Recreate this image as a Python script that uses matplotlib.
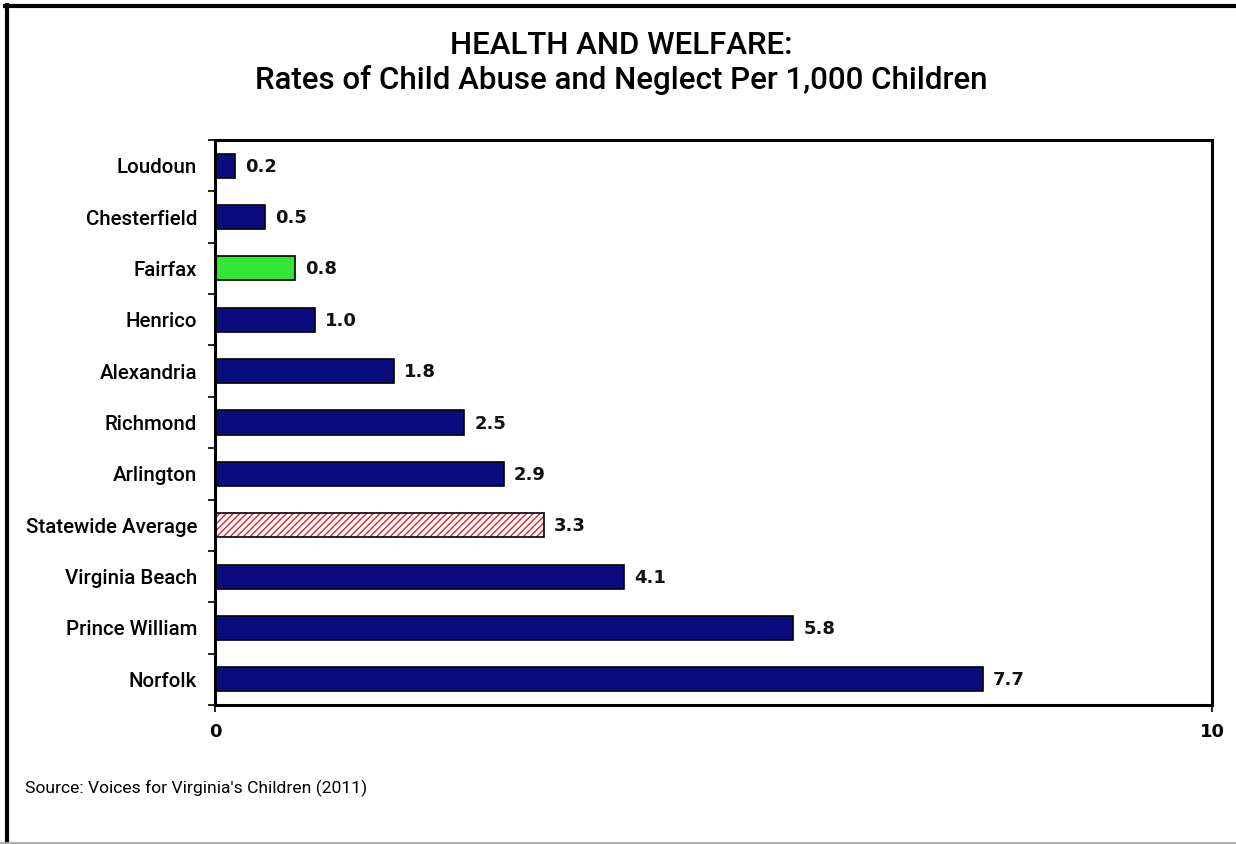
import matplotlib
matplotlib.use("Agg")
import matplotlib.pyplot as plt
from matplotlib.lines import Line2D
import numpy as np

categories = ["Loudoun", "Chesterfield", "Fairfax", "Henrico", "Alexandria", "Richmond",
              "Arlington", "Statewide Average", "Virginia Beach", "Prince William", "Norfolk"]
values = [0.2, 0.5, 0.8, 1.0, 1.8, 2.5, 2.9, 3.3, 4.1, 5.8, 7.7]
value_labels = ["0.2", "0.5", "0.8", "1.0", "1.8", "2.5", "2.9", "3.3", "4.1", "5.8", "7.7"]
x_ticks = [0, 10]
title_line1 = "HEALTH AND WELFARE:"
title_line2 = "Rates of Child Abuse and Neglect Per 1,000 Children"
source = "Source: Voices for Virginia's Children (2011)"

NAVY = "#0b0b80"
GREEN = "#33e633"
RED = "#e8202a"

narrow = ["Roboto", "DejaVu Sans"]

fig = plt.figure(figsize=(12.36, 8.44), dpi=100)
ax = fig.add_axes([215/1236, 1-705/844, (1212-215)/1236, (705-140)/844])

y = np.arange(len(categories))
colors = []
for c in categories:
    if c == "Fairfax":
        colors.append(GREEN)
    elif c == "Statewide Average":
        colors.append("white")
    else:
        colors.append(NAVY)

h = 0.47
for yi, v, c, cat in zip(y, values, colors, categories):
    if cat == "Statewide Average":
        ax.barh(yi, v, height=h, color="white", edgecolor=RED, hatch="/////", linewidth=0, zorder=2)
        ax.barh(yi, v, height=h, fill=False, edgecolor="black", linewidth=1.2, zorder=3)
    else:
        ax.barh(yi, v, height=h, color=c, edgecolor="black", linewidth=1.2, zorder=2)

for yi, v, lab in zip(y, values, value_labels):
    ax.text(v + 0.1, yi + 0.02, lab, va="center", ha="left", fontsize=13,
            family="DejaVu Sans", color="#111111", fontweight="bold")

ax.set_xlim(0, 10)
ax.set_ylim(len(categories) - 0.5, -0.5)
ax.set_xticks(x_ticks)
ax.set_xticklabels([str(t) for t in x_ticks], fontsize=13, family="DejaVu Sans", fontweight="bold")
ax.set_yticks(y)
ax.set_yticklabels(categories, fontsize=14.8, family=narrow, fontweight="medium")
ax.set_yticks(np.arange(len(categories) + 1) - 0.5, minor=True)
ax.tick_params(axis="y", which="major", length=0, pad=13)
ax.tick_params(axis="y", which="minor", length=5, width=1.2, direction="out")
ax.tick_params(axis="x", which="major", length=5, width=1.2, direction="out", pad=8)
for s in ax.spines.values():
    s.set_linewidth(2.2)
    s.set_color("black")

fig.text(0.503, 1-45/844, title_line1, ha="center", va="center", fontsize=22.5, family=narrow, fontweight="medium")
fig.text(0.503, 1-80/844, title_line2, ha="center", va="center", fontsize=22.5, family=narrow, fontweight="medium")
fig.text(25/1236, 1-788/844, source, ha="left", va="center", fontsize=12.6, family=narrow)

# figure frame (left and top black, bottom light gray)
fig.add_artist(Line2D([6.5/1236, 6.5/1236], [0, 1-5/844], transform=fig.transFigure, color="black", lw=3))
fig.add_artist(Line2D([5/1236, 1], [1-6/844, 1-6/844], transform=fig.transFigure, color="black", lw=3))
fig.add_artist(Line2D([0, 1], [1.5/844, 1.5/844], transform=fig.transFigure, color="#aaaaaa", lw=2))

fig.savefig("out.png", dpi=100)
